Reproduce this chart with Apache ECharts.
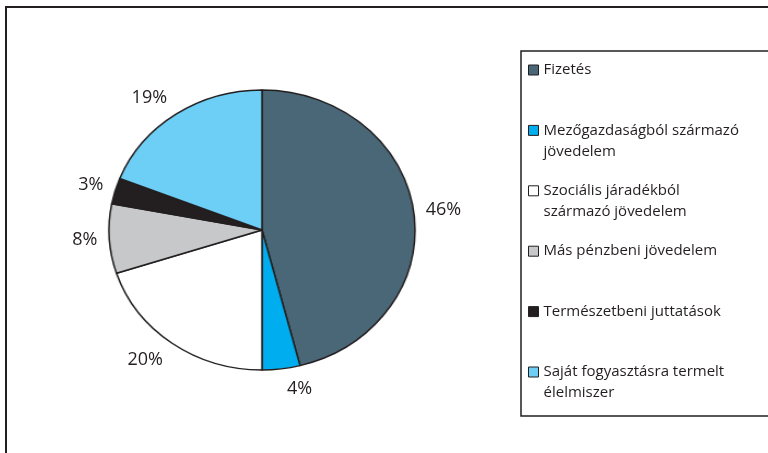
<!DOCTYPE html>
<html>
<head>
<meta charset="utf-8">
<script src="https://cdn.jsdelivr.net/npm/echarts@6/dist/echarts.min.js"></script>
<style>
  html, body { margin: 0; padding: 0; background: #fff; }
  .layer { position: absolute; left: 0; top: 0; width: 768px; height: 453px; }
  /* the printed pie is slightly wider than tall */
  #pie { transform: scaleX(1.093); transform-origin: 262px 230px; }
</style>
</head>
<body>
<div id="pie" class="layer"></div>
<div id="chart" class="layer"></div>
<script>
// slice names in drawing order (clockwise from 12 o'clock)
const categories = [
  'Fizetés',
  'Mezőgazdaságból származó\njövedelem',
  'Szociális járadékból\nszármazó jövedelem',
  'Más pénzbeni jövedelem',
  'Természetbeni juttatások',
  'Saját fogyasztásra termelt\nélelmiszer'
]
const shares = [46, 4, 20, 8, 3, 19]
const sliceColors = ['#4a6778', '#00aeef', '#ffffff', '#c7c8ca', '#231f20', '#6dcff6']

const ink = '#231f20'
const font = '"Open Sans", "Noto Sans", sans-serif'

// slices only, in the stretched layer
const pieChart = echarts.init(document.getElementById('pie'))
pieChart.setOption({
  animation: false,
  series: [{
    type: 'pie',
    center: [262, 230],
    radius: 140,
    startAngle: 90,
    clockwise: true,
    data: categories.map((name, i) => ({
      name,
      value: shares[i],
      itemStyle: { color: sliceColors[i] }
    })),
    itemStyle: { borderColor: ink, borderWidth: 1.5 },
    label: { show: false },
    labelLine: { show: false },
    emphasis: { disabled: true }
  }]
})

// frame, legend and percent labels on top
const chart = echarts.init(document.getElementById('chart'))

// pad every legend entry to three lines so the marker sits on the first text line
const legendText = (name) => ' \n' + name + (name.includes('\n') ? '' : '\n ')

chart.setOption({
  animation: false,
  graphic: [
    {
      type: 'rect',
      shape: { x: 6, y: 7, width: 800, height: 500 },
      style: { fill: 'none', stroke: ink, lineWidth: 2 },
      silent: true
    },
    {
      type: 'rect',
      shape: { x: 521, y: 51, width: 300, height: 365 },
      style: { fill: 'none', stroke: ink, lineWidth: 1.5 },
      silent: true
    }
  ],
  legend: {
    orient: 'vertical',
    left: 528,
    top: 38.5,
    padding: 0,
    itemWidth: 10,
    itemHeight: 10,
    itemGap: -2.6,
    icon: 'rect',
    selectedMode: false,
    data: categories.map((name, i) => ({
      name,
      itemStyle: { color: sliceColors[i] }
    })),
    formatter: legendText,
    itemStyle: { borderColor: ink, borderWidth: 1 },
    textStyle: {
      color: ink,
      fontFamily: font,
      fontSize: 15,
      lineHeight: 21
    }
  },
  series: [
    {
      // transparent twin of the pie: carries the percent labels
      type: 'pie',
      center: [262, 230],
      radius: 146,
      startAngle: 90,
      clockwise: true,
      avoidLabelOverlap: false,
      data: categories.map((name, i) => ({ name, value: shares[i] })),
      itemStyle: { color: 'rgba(0,0,0,0)', borderWidth: 0 },
      label: {
        show: true,
        position: 'outside',
        formatter: (p) => p.value + '%',
        color: ink,
        fontFamily: font,
        fontSize: 18
      },
      labelLine: { show: false, length: 14, length2: 0 },
      emphasis: { disabled: true }
    }
  ]
})
</script>
</body>
</html>
